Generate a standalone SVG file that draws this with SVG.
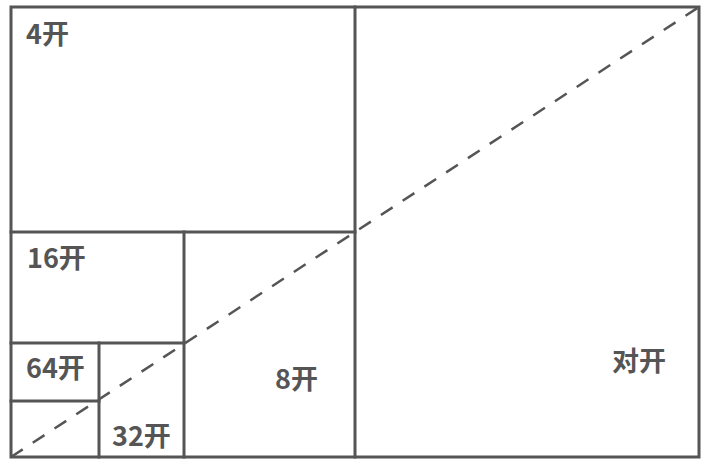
<svg xmlns="http://www.w3.org/2000/svg" width="711" height="466" viewBox="0 0 711 466">
<style>
.ln{stroke:#555;stroke-width:3;fill:none;stroke-linecap:square}
.dash{stroke:#555;stroke-width:2.5;fill:none;stroke-dasharray:14 12}
.lbl{font-family:"Noto Sans CJK SC","Noto Sans",sans-serif;font-weight:bold;font-size:27px;fill:#555}
</style>
<rect width="711" height="466" fill="#fff"/>
<g id="sheet-duikai">
<rect class="ln" x="11" y="7" width="688" height="450"/>
<text class="lbl" x="612" y="371">对开</text>
</g>
<g id="sheet-4kai">
<line class="ln" x1="355" y1="7" x2="355" y2="457"/>
<text class="lbl" x="26" y="44">4开</text>
</g>
<g id="sheet-8kai">
<line class="ln" x1="11" y1="232" x2="355" y2="232"/>
<text class="lbl" x="275" y="389">8开</text>
</g>
<g id="sheet-16kai">
<line class="ln" x1="184" y1="232" x2="184" y2="457"/>
<text class="lbl" x="27" y="268">16开</text>
</g>
<g id="sheet-32kai">
<line class="ln" x1="11" y1="343" x2="184" y2="343"/>
<text class="lbl" x="112" y="446">32开</text>
</g>
<g id="sheet-64kai">
<line class="ln" x1="99" y1="343" x2="99" y2="457"/>
<line class="ln" x1="11" y1="401" x2="99" y2="401"/>
<text class="lbl" x="26" y="378">64开</text>
</g>
<g id="connectors">
<line class="dash" x1="11" y1="457" x2="699" y2="7"/>
</g>
</svg>
